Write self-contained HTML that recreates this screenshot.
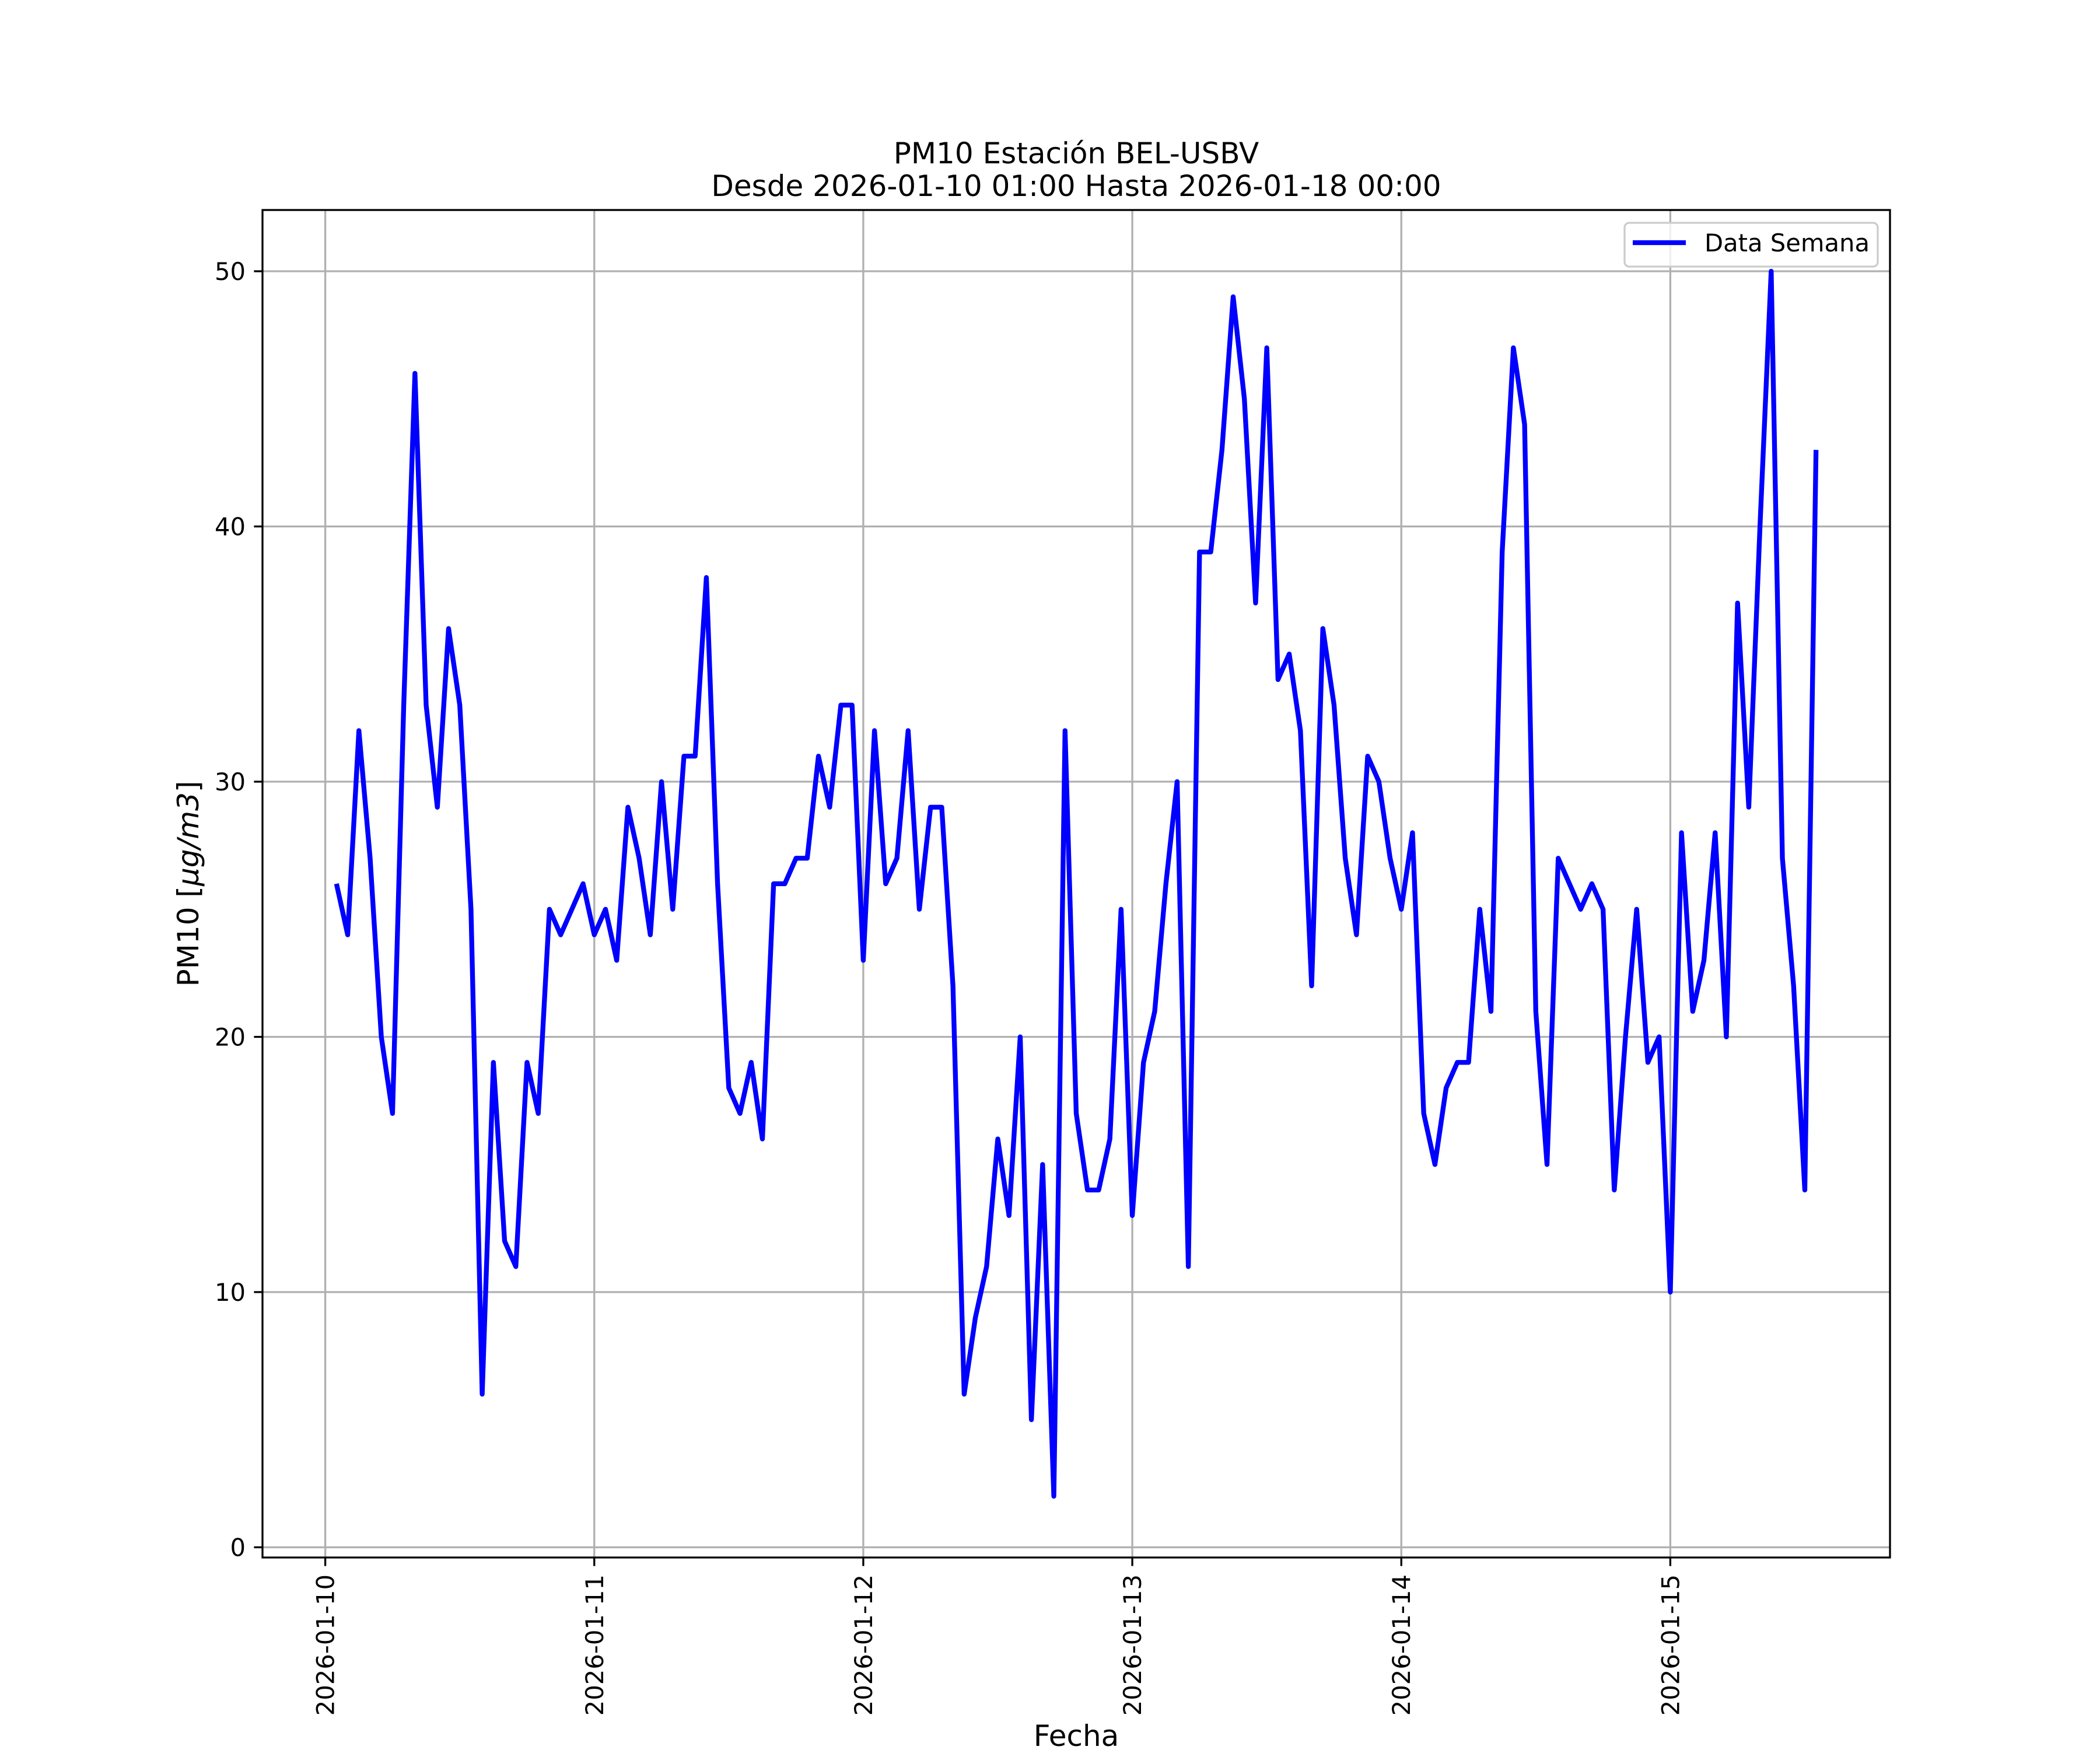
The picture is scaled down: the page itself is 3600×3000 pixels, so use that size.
<!DOCTYPE html>
<html><head><meta charset="utf-8">
<style>
html,body{margin:0;padding:0;background:#fff;}
svg{display:block;font-family:"DejaVu Sans","Liberation Sans",sans-serif;}
</style></head>
<body>
<svg id="chart" width="3600" height="3000" viewBox="0 0 3600 3000" xmlns="http://www.w3.org/2000/svg">
<rect x="0" y="0" width="3600" height="3000" fill="#fff"/>
<text x="1845" y="280" font-size="50" text-anchor="middle">PM10 Estación BEL-USBV</text>
<text x="1845" y="336" font-size="50" text-anchor="middle">Desde 2026-01-10 01:00 Hasta 2026-01-18 00:00</text>
<g id="grid"></g>
<g id="series"></g>
<rect x="450" y="360" width="2790" height="2310" fill="none" stroke="#000" stroke-width="3.3"/>
<g id="ticks"></g>
<text x="1845" y="2993" font-size="50" text-anchor="middle">Fecha</text>
<text transform="translate(340,1515) rotate(-90)" font-size="50" text-anchor="middle">PM10 [<tspan font-style="italic">μg/m3</tspan>]</text>
<g>
<rect x="2785" y="382" width="434" height="75" rx="8" fill="#fff" fill-opacity="0.8" stroke="#cccccc" stroke-width="3.3"/>
<line x1="2799" y1="416" x2="2890" y2="416" stroke="#0000ff" stroke-width="8.33"/>
<text x="2922" y="431" font-size="41.7">Data Semana</text>
</g>
</svg>
<script>
// hours since 2026-01-10 00:00 for each sample: hourly from 01:00
const startHour = 1;
const values = [
26,24,32,27,20,17,33,46,33,29,36,33,25,6,19,12,11,19,17,25,24,25,26,24,
25,23,29,27,24,30,25,31,31,38,26,18,17,19,16,26,26,27,27,31,29,33,33,
23,32,26,27,32,25,29,29,22,6,9,11,16,13,20,5,15,2,32,17,14,14,16,
25,13,19,21,26,30,11,39,39,43,49,45,37,47,34,35,32,22,36,33,27,24,31,30,27,
25,28,17,15,18,19,19,25,21,39,47,44,21,15,27,26,25,26,25,14,20,25,19,20,
10,28,21,23,28,20,37,29,40,50,27,22,14,43
];
const xTickLabels = ["2026-01-10","2026-01-11","2026-01-12","2026-01-13","2026-01-14","2026-01-15"];
const yTicks = [0,10,20,30,40,50];

const NS = "http://www.w3.org/2000/svg";
const L=450,R=3240,T=360,B=2670;
const hours = values.map((v,i)=>startHour+i);
const hMin=hours[0], hMax=hours[hours.length-1];
const hPad=(hMax-hMin)*0.05;
const x0=hMin-hPad, x1=hMax+hPad;
const vMin=Math.min(...values), vMax=Math.max(...values);
const vPad=(vMax-vMin)*0.05;
const y0=vMin-vPad, y1=vMax+vPad;
function sx(h){return L+(h-x0)/(x1-x0)*(R-L);}
function sy(v){return B-(v-y0)/(y1-y0)*(B-T);}
function mk(tag,attrs,parent){const e=document.createElementNS(NS,tag);for(const k in attrs)e.setAttribute(k,attrs[k]);parent.appendChild(e);return e;}
const grid=document.getElementById('grid'), ticks=document.getElementById('ticks'), series=document.getElementById('series');

xTickLabels.forEach((lab,i)=>{
  const x=sx(i*24);
  const g=mk('line',{x1:x,y1:T,x2:x,y2:B,stroke:'#b0b0b0','stroke-width':3.3},grid);
  
  
  const t=mk('line',{x1:x,y1:B,x2:x,y2:B+14.6,stroke:'#000','stroke-width':3.3},ticks);
  
  
  const tx=mk('text',{transform:`translate(${x+15},${B+29}) rotate(-90)`,'font-size':41.7,'text-anchor':'end'},ticks);
  tx.textContent=lab;
  
  
});
yTicks.forEach(v=>{
  const y=sy(v);
  const g=mk('line',{x1:L,y1:y,x2:R,y2:y,stroke:'#b0b0b0','stroke-width':3.3},grid);
  
  
  const t=mk('line',{x1:L-14.6,y1:y,x2:L,y2:y,stroke:'#000','stroke-width':3.3},ticks);
  
  
  const tx=mk('text',{x:L-29,y:y+15,'font-size':41.7,'text-anchor':'end'},ticks);
  tx.textContent=String(v);
  
  
});
const pts=values.map((v,i)=>sx(hours[i]).toFixed(2)+','+sy(v).toFixed(2)).join(' ');
const line=mk('polyline',{points:pts,fill:'none',stroke:'#0000ff','stroke-width':8.33,'stroke-linejoin':'round','stroke-linecap':'butt'},series);


</script>
</body></html>
